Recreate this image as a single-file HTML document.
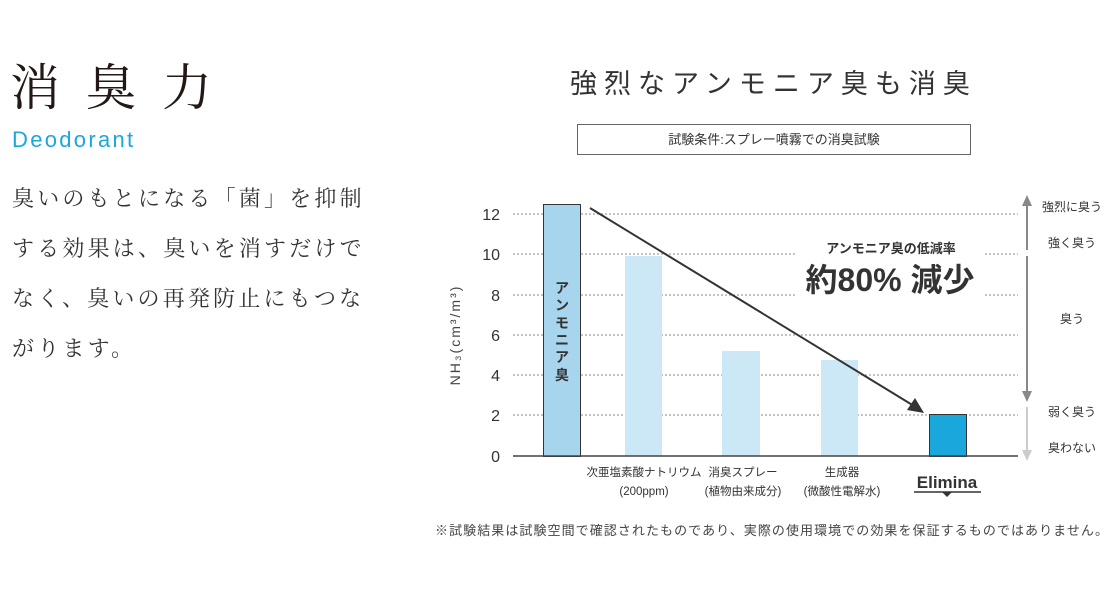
<!DOCTYPE html>
<html><head><meta charset="utf-8"><style>
body{margin:0;width:1120px;height:597px;background:#fff;position:relative;overflow:hidden;font-family:"Liberation Sans","Noto Sans CJK JP",sans-serif;color:#333}
.a{position:absolute;white-space:nowrap}
</style></head><body>
<div class="a" style="left:10px;top:58px;font-family:'Liberation Serif','Noto Serif CJK SC',serif;font-size:50px;letter-spacing:26px;color:#231815;line-height:60px">消臭力</div>
<div class="a" style="left:12px;top:127px;font-size:22px;color:#1aa7dc;letter-spacing:2.3px">Deodorant</div>
<div class="a" style="left:12px;top:173px;font-family:'Noto Serif CJK SC',serif;font-size:22px;line-height:50px;letter-spacing:3.2px;color:#333">臭いのもとになる「菌」を抑制<br>する効果は、臭いを消すだけで<br>なく、臭いの再発防止にもつな<br>がります。</div>
<div class="a" style="left:570px;top:62px;font-size:27px;letter-spacing:7px;color:#333">強烈なアンモニア臭も消臭</div>
<div class="a" style="left:577px;top:124px;width:394px;height:31px;border:1px solid #666;box-sizing:border-box;text-align:center;font-size:13px;line-height:29px;color:#333">試験条件:スプレー噴霧での消臭試験</div>
<svg class="a" style="left:0;top:0" width="1120" height="597">
<g stroke="#888" stroke-dasharray="2,2" stroke-width="1">
<line x1="513" x2="1018" y1="214" y2="214"/><line x1="513" x2="1018" y1="254" y2="254"/><line x1="513" x2="1018" y1="295" y2="295"/><line x1="513" x2="1018" y1="335" y2="335"/><line x1="513" x2="1018" y1="375" y2="375"/><line x1="513" x2="1018" y1="415" y2="415"/>
</g>
<rect x="795" y="232" width="190" height="68" fill="#fff"/>
<g font-size="16" fill="#333" text-anchor="end"><text x="500" y="220">12</text><text x="500" y="260">10</text><text x="500" y="301">8</text><text x="500" y="341">6</text><text x="500" y="381">4</text><text x="500" y="421">2</text><text x="500" y="462">0</text></g>
<text transform="translate(460,335) rotate(-90)" text-anchor="middle" font-size="14" fill="#444" letter-spacing="2">NH₃(cm³/m³)</text>
<rect x="543.5" y="204.5" width="37" height="252" fill="#a8d5ee" stroke="#333"/>
<rect x="625" y="256" width="37" height="200" fill="#cce7f6"/>
<rect x="722" y="351" width="38" height="105" fill="#cce7f6"/>
<rect x="821" y="360" width="37" height="96" fill="#cce7f6"/>
<rect x="929.5" y="414.5" width="37" height="42" fill="#1aa7dc" stroke="#333"/>
<line x1="513" x2="1018" y1="456" y2="456" stroke="#444" stroke-width="1.5"/>
<g font-size="14" font-weight="bold" fill="#333" text-anchor="middle"><text x="562" y="293">ア</text><text x="562" y="310">ン</text><text x="562" y="328">モ</text><text x="562" y="345">ニ</text><text x="562" y="362">ア</text><text x="562" y="380">臭</text></g>
<line x1="590" y1="208" x2="914" y2="406" stroke="#333" stroke-width="2"/>
<polygon points="924,413 907,410 915,398" fill="#333"/>
<text x="891" y="253" text-anchor="middle" font-size="13" font-weight="bold" fill="#333">アンモニア臭の低減率</text>
<text x="890" y="291" text-anchor="middle" font-size="32" font-weight="bold" fill="#333">約80% 減少</text>
<line x1="1027" y1="205" x2="1027" y2="250" stroke="#888" stroke-width="2"/>
<polygon points="1027,195 1022,206 1032,206" fill="#888"/>
<line x1="1027" y1="256" x2="1027" y2="392" stroke="#888" stroke-width="2"/>
<polygon points="1027,402 1022,391 1032,391" fill="#888"/>
<line x1="1027" y1="407" x2="1027" y2="450" stroke="#ccc" stroke-width="2"/>
<polygon points="1027,461 1022,450 1032,450" fill="#ccc"/>
<g font-size="12" fill="#333" text-anchor="middle"><text x="1072" y="211">強烈に臭う</text><text x="1072" y="247">強く臭う</text><text x="1072" y="323">臭う</text><text x="1072" y="416">弱く臭う</text><text x="1072" y="452">臭わない</text></g>
<g font-size="11.5" fill="#333" text-anchor="middle"><text x="644" y="476">次亜塩素酸ナトリウム</text><text x="644" y="495">(200ppm)</text><text x="743" y="476">消臭スプレー</text><text x="743" y="495">(植物由来成分)</text><text x="842" y="476">生成器</text><text x="842" y="495">(微酸性電解水)</text></g>
<text x="947" y="488" text-anchor="middle" font-size="17" font-weight="bold" fill="#333">Elimina</text>
<line x1="914" y1="492" x2="981" y2="492" stroke="#333" stroke-width="1.5"/>
<polygon points="942,492 952,492 947,497" fill="#333"/>
<text x="435" y="535" font-size="13" fill="#444" textLength="673" lengthAdjust="spacing">※試験結果は試験空間で確認されたものであり、実際の使用環境での効果を保証するものではありません。</text>
</svg>
</body></html>
